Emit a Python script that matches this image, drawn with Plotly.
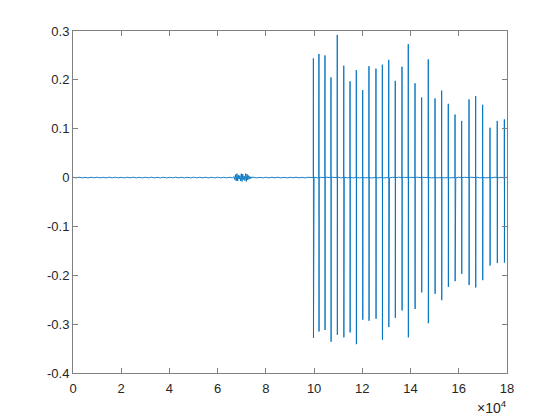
import plotly.graph_objects as go

# Spike positions (samples) and their positive / negative extremes
spike_x = [99700, 102000, 104500, 107000, 109600, 112300, 114900, 117500, 120150, 122750,
           125650, 128300, 130950, 133650, 136450, 139050, 141850, 144600, 147350, 150150,
           152900, 155650, 158450, 161200, 164250, 167000, 169900, 172950, 175950, 178900]
spike_top = [0.244, 0.253, 0.250, 0.205, 0.292, 0.229, 0.197, 0.220, 0.179, 0.228,
             0.223, 0.231, 0.241, 0.198, 0.227, 0.273, 0.193, 0.164, 0.242, 0.162,
             0.178, 0.151, 0.129, 0.116, 0.160, 0.167, 0.149, 0.102, 0.116, 0.119]
spike_bottom = [-0.328, -0.315, -0.312, -0.336, -0.322, -0.327, -0.317, -0.341, -0.291, -0.293,
                -0.289, -0.332, -0.306, -0.287, -0.272, -0.327, -0.269, -0.235, -0.298, -0.238,
                -0.251, -0.224, -0.212, -0.197, -0.220, -0.225, -0.210, -0.180, -0.175, -0.174]

# Low-level background signal
base_x = list(range(0, 180001, 1250))
base_y = [0.0006, -0.0005, 0.0007, -0.0006, 0.0005, -0.0007, 0.0006, -0.0005, 0.0007, -0.0006,
          0.0005, -0.0006, 0.0007, -0.0005, 0.0006, -0.0007, 0.0005, -0.0006, 0.0006, -0.0005,
          0.0007, -0.0006, 0.0005, -0.0007, 0.0006, -0.0005, 0.0007, -0.0006, 0.0005, -0.0006,
          0.0006, -0.0007, 0.0005, -0.0005, 0.0007, -0.0006, 0.0006, -0.0005, 0.0005, -0.0007,
          0.0007, -0.0006, 0.0005, -0.0005, 0.0006, -0.0007, 0.0006, -0.0005, 0.0007, -0.0006,
          0.0005, -0.0006, 0.0006, -0.0005, 0.0007, -0.0007, 0.0005, -0.0006, 0.0006, -0.0005,
          0.0007, -0.0006, 0.0005, -0.0005, 0.0006, -0.0007, 0.0006, -0.0005, 0.0007, -0.0006,
          0.0005, -0.0006, 0.0006, -0.0005, 0.0007, -0.0006, 0.0005, -0.0007, 0.0006, -0.0005,
          0.0007, -0.0006, 0.0005, -0.0006, 0.0006, -0.0007, 0.0005, -0.0005, 0.0007, -0.0006,
          0.0006, -0.0005, 0.0005, -0.0007, 0.0007, -0.0006, 0.0005, -0.0005, 0.0006, -0.0007,
          0.0006, -0.0005, 0.0007, -0.0006, 0.0005, -0.0006, 0.0006, -0.0005, 0.0007, -0.0007,
          0.0005, -0.0006, 0.0006, -0.0005, 0.0007, -0.0006, 0.0005, -0.0005, 0.0006, -0.0007,
          0.0006, -0.0005, 0.0007, -0.0006, 0.0005, -0.0006, 0.0006, -0.0005, 0.0007, -0.0006,
          0.0005, -0.0007, 0.0006, -0.0005, 0.0007, -0.0006, 0.0005, -0.0006, 0.0006, -0.0005,
          0.0007, -0.0006, 0.0005, -0.0007, 0.0006]

# Small burst around 7e4
burst_x = [66800, 67100, 67400, 67700, 68000, 68300, 68600, 68900, 69200, 69500,
           69800, 70100, 70400, 70700, 71000, 71300, 71600, 71900, 72200, 72500,
           72800, 73100, 73400, 73700, 74000, 74300, 74600]
burst_y = [0.002, -0.004, 0.006, -0.007, 0.008, -0.007, 0.005, -0.003, 0.004, -0.007,
           0.008, -0.008, 0.007, -0.004, 0.003, -0.006, 0.008, -0.008, 0.007, -0.005,
           0.004, -0.003, 0.002, -0.002, 0.0015, -0.001, 0.001]

pts = list(zip(base_x, base_y)) + list(zip(burst_x, burst_y))
for sx, st, sb in zip(spike_x, spike_top, spike_bottom):
    pts += [(sx - 40, 0.0), (sx, st), (sx + 40, sb), (sx + 80, 0.0)]
pts.sort(key=lambda p: p[0])
xs = [p[0] for p in pts]
ys = [p[1] for p in pts]

fig = go.Figure(go.Scatter(x=xs, y=ys, mode="lines",
                           line=dict(color="#0072BD", width=0.9), hoverinfo="skip"))

xt = [0, 20000, 40000, 60000, 80000, 100000, 120000, 140000, 160000, 180000]
xt_text = ["0", "2", "4", "6", "8", "10", "12", "14", "16", "18"]
yt = [-0.4, -0.3, -0.2, -0.1, 0, 0.1, 0.2, 0.3]
yt_text = ["-0.4", "-0.3", "-0.2", "-0.1", "0", "0.1", "0.2", "0.3"]

tick_font = dict(family="Arial, Liberation Sans", size=13, color="#262626")
axis_common = dict(showgrid=False, zeroline=False, showline=True, linecolor="#808080",
                   linewidth=1, mirror="allticks", ticks="inside", ticklen=5,
                   tickcolor="#808080", tickfont=tick_font)
fig.update_layout(
    width=560, height=420,
    margin=dict(l=65, r=61, t=23, b=55),
    paper_bgcolor="white", plot_bgcolor="white",
    showlegend=False,
    xaxis=dict(range=[0, 180000], tickvals=xt, ticktext=xt_text, ticklabelstandoff=3,
               **axis_common),
    yaxis=dict(range=[-0.4, 0.3], tickvals=yt, ticktext=yt_text, **axis_common),
    annotations=[dict(text="×10<sup>4</sup>", x=1, y=-0.1, xref="paper", yref="paper",
                      xanchor="right", yanchor="middle", xshift=2, showarrow=False,
                      font=dict(family="Arial, Liberation Sans", size=14, color="#262626"))],
)
fig.write_html("out.html")
